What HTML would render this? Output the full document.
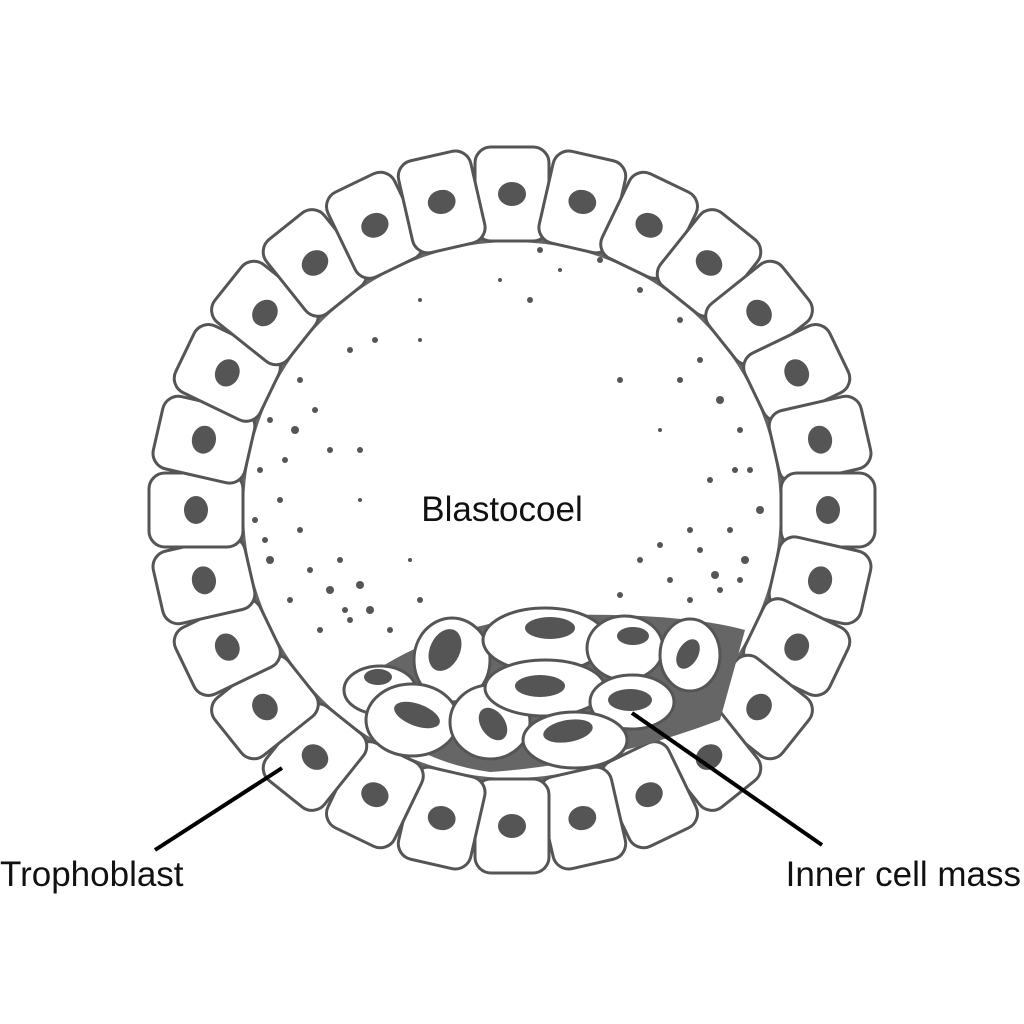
<!DOCTYPE html>
<html><head><style>body{margin:0;background:#fff}svg{display:block}</style></head><body>
<svg width="1024" height="1024" viewBox="0 0 1024 1024" xmlns="http://www.w3.org/2000/svg">
<defs>
<g id="c"><rect x="475" y="147" width="74" height="94" rx="16" fill="#fff" stroke="#555" stroke-width="3"/><ellipse cx="512" cy="194" rx="14" ry="12" fill="#555"/></g>
</defs>
<circle cx="512" cy="510" r="272" fill="none" stroke="#666" stroke-width="8"/>
<g>
<use href="#c" transform="rotate(0 512 510)"/><use href="#c" transform="rotate(12.857 512 510)"/><use href="#c" transform="rotate(25.714 512 510)"/><use href="#c" transform="rotate(38.571 512 510)"/><use href="#c" transform="rotate(51.429 512 510)"/><use href="#c" transform="rotate(64.286 512 510)"/><use href="#c" transform="rotate(77.143 512 510)"/><use href="#c" transform="rotate(90 512 510)"/><use href="#c" transform="rotate(102.857 512 510)"/><use href="#c" transform="rotate(115.714 512 510)"/><use href="#c" transform="rotate(128.571 512 510)"/><use href="#c" transform="rotate(141.429 512 510)"/><use href="#c" transform="rotate(154.286 512 510)"/><use href="#c" transform="rotate(167.143 512 510)"/><use href="#c" transform="rotate(180 512 510)"/><use href="#c" transform="rotate(192.857 512 510)"/><use href="#c" transform="rotate(205.714 512 510)"/><use href="#c" transform="rotate(218.571 512 510)"/><use href="#c" transform="rotate(231.429 512 510)"/><use href="#c" transform="rotate(244.286 512 510)"/><use href="#c" transform="rotate(257.143 512 510)"/><use href="#c" transform="rotate(270 512 510)"/><use href="#c" transform="rotate(282.857 512 510)"/><use href="#c" transform="rotate(295.714 512 510)"/><use href="#c" transform="rotate(308.571 512 510)"/><use href="#c" transform="rotate(321.429 512 510)"/><use href="#c" transform="rotate(334.286 512 510)"/><use href="#c" transform="rotate(347.143 512 510)"/>
</g>
<path d="M350 690 Q420 630 540 615 Q680 612 745 630 L720 720 Q600 765 490 772 Q400 760 350 690Z" fill="#666"/>
<g fill="#fff" stroke="#555" stroke-width="3">
<ellipse cx="380" cy="690" rx="36" ry="24"/>
<ellipse cx="452" cy="660" rx="38" ry="42"/>
<ellipse cx="545" cy="640" rx="62" ry="32"/>
<ellipse cx="625" cy="648" rx="38" ry="32"/>
<ellipse cx="690" cy="655" rx="30" ry="36"/>
<ellipse cx="412" cy="720" rx="46" ry="36"/>
<ellipse cx="490" cy="722" rx="40" ry="37"/>
<ellipse cx="545" cy="688" rx="60" ry="28"/>
<ellipse cx="632" cy="702" rx="42" ry="27"/>
<ellipse cx="575" cy="740" rx="52" ry="28"/>
</g>
<g fill="#555">
<ellipse cx="378" cy="677" rx="14" ry="8"/>
<ellipse cx="445" cy="650" rx="15" ry="22" transform="rotate(25 445 650)"/>
<ellipse cx="550" cy="628" rx="25" ry="11"/>
<ellipse cx="633" cy="636" rx="16" ry="9"/>
<ellipse cx="688" cy="654" rx="10" ry="16" transform="rotate(30 688 654)"/>
<ellipse cx="417" cy="715" rx="24" ry="11" transform="rotate(20 417 715)"/>
<ellipse cx="493" cy="724" rx="12" ry="18" transform="rotate(-35 493 724)"/>
<ellipse cx="540" cy="686" rx="25" ry="11"/>
<ellipse cx="630" cy="700" rx="22" ry="11"/>
<ellipse cx="568" cy="731" rx="25" ry="11" transform="rotate(-10 568 731)"/>
</g>
<g fill="#555">
<circle cx="300" cy="380" r="3"/><circle cx="270" cy="420" r="3"/><circle cx="295" cy="430" r="4"/><circle cx="260" cy="470" r="3"/><circle cx="280" cy="500" r="3"/><circle cx="255" cy="520" r="3"/><circle cx="300" cy="530" r="3"/><circle cx="270" cy="560" r="4"/><circle cx="310" cy="570" r="3"/><circle cx="290" cy="600" r="3"/><circle cx="330" cy="590" r="4"/><circle cx="350" cy="620" r="3"/><circle cx="370" cy="610" r="4"/><circle cx="320" cy="630" r="3"/><circle cx="390" cy="630" r="3"/><circle cx="340" cy="560" r="3"/><circle cx="360" cy="500" r="2"/><circle cx="330" cy="450" r="3"/><circle cx="375" cy="340" r="3"/><circle cx="350" cy="350" r="3"/><circle cx="420" cy="300" r="2"/><circle cx="500" cy="280" r="2"/><circle cx="530" cy="300" r="3"/><circle cx="540" cy="250" r="3"/><circle cx="600" cy="260" r="3"/><circle cx="620" cy="380" r="3"/><circle cx="680" cy="320" r="3"/><circle cx="700" cy="360" r="3"/><circle cx="720" cy="400" r="4"/><circle cx="740" cy="430" r="3"/><circle cx="750" cy="470" r="3"/><circle cx="710" cy="480" r="3"/><circle cx="760" cy="510" r="4"/><circle cx="730" cy="530" r="3"/><circle cx="700" cy="550" r="3"/><circle cx="745" cy="560" r="4"/><circle cx="670" cy="580" r="3"/><circle cx="720" cy="590" r="3"/><circle cx="690" cy="600" r="3"/><circle cx="640" cy="560" r="3"/><circle cx="660" cy="430" r="2"/><circle cx="620" cy="595" r="3"/><circle cx="410" cy="560" r="2"/><circle cx="420" cy="600" r="3"/>
<circle cx="285" cy="460" r="3"/><circle cx="315" cy="410" r="3"/><circle cx="265" cy="540" r="3"/><circle cx="345" cy="610" r="3"/><circle cx="360" cy="585" r="4"/><circle cx="735" cy="470" r="3"/><circle cx="715" cy="575" r="4"/><circle cx="690" cy="530" r="3"/><circle cx="660" cy="545" r="3"/><circle cx="740" cy="580" r="3"/><circle cx="680" cy="380" r="3"/><circle cx="360" cy="450" r="3"/><circle cx="420" cy="340" r="2"/><circle cx="560" cy="270" r="2"/><circle cx="640" cy="290" r="3"/>
</g>
<text x="502" y="521" font-family="Liberation Sans, sans-serif" font-size="35" text-anchor="middle" fill="#111">Blastocoel</text>
<line x1="155" y1="850" x2="282" y2="768" stroke="#000" stroke-width="4"/>
<line x1="822" y1="845" x2="632" y2="713" stroke="#000" stroke-width="4"/>
<text x="0" y="886" font-family="Liberation Sans, sans-serif" font-size="35" fill="#111">Trophoblast</text>
<text x="1021" y="886" font-family="Liberation Sans, sans-serif" font-size="35" fill="#111" text-anchor="end">Inner cell mass</text>
</svg>
</body></html>
